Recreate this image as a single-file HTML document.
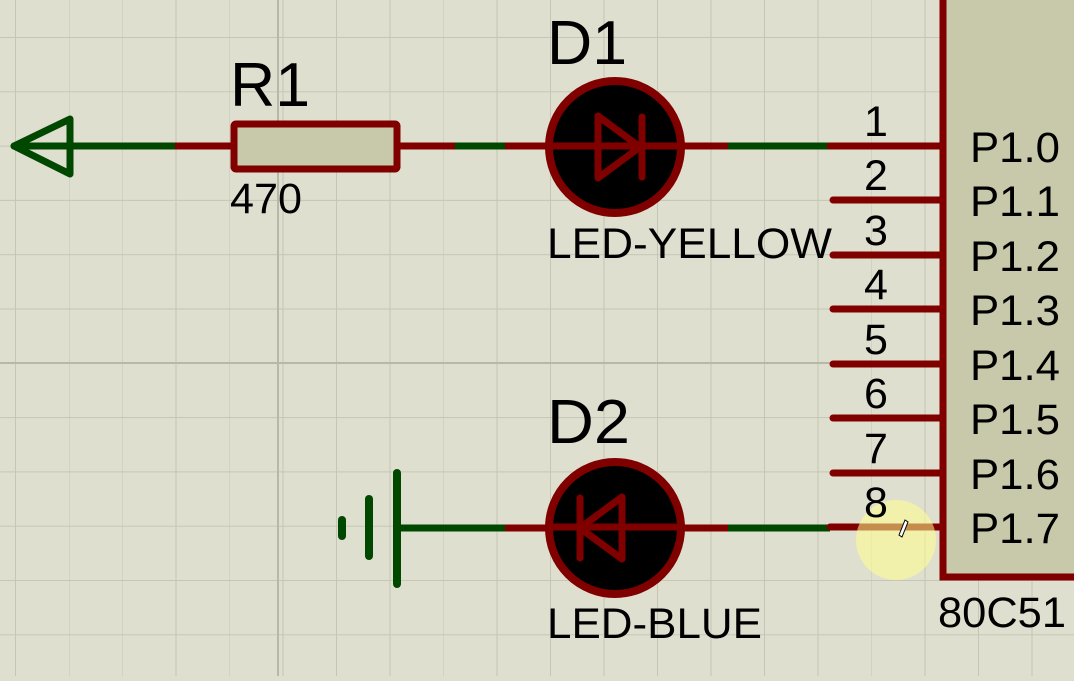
<!DOCTYPE html>
<html><head><style>html,body{margin:0;padding:0;overflow:hidden;background:#dfdfd0;}</style></head>
<body>
<svg width="1074" height="676" xmlns="http://www.w3.org/2000/svg" font-family="Liberation Sans, sans-serif">
<defs>
<pattern id="g" x="15" y="37" width="53.5" height="54.3" patternUnits="userSpaceOnUse">
<path d="M0 0H53.5M0 0V54.3" stroke="#c6c6b6" stroke-width="2" fill="none"/>
</pattern>
</defs>
<rect width="1074" height="676" fill="#dfdfd0"/>
<rect width="1074" height="676" fill="url(#g)"/>
<line x1="278" y1="0" x2="278" y2="676" stroke="#b8b8a8" stroke-width="2"/>
<line x1="0" y1="363" x2="1074" y2="363" stroke="#b8b8a8" stroke-width="2"/>
<g stroke-linecap="round" fill="none" stroke-width="7">
<path d="M70 119 L14 146 L70 174 Z" stroke="#004800" stroke-linejoin="round"/>
<line x1="14" y1="146" x2="175" y2="146" stroke="#004800"/>
<line x1="175" y1="146" x2="232" y2="146" stroke="#800000" stroke-linecap="butt"/>
<line x1="398" y1="146" x2="455" y2="146" stroke="#800000" stroke-linecap="butt"/>
<line x1="455" y1="146" x2="505" y2="146" stroke="#004800" stroke-linecap="butt"/>
<line x1="505" y1="146" x2="728" y2="146" stroke="#800000" stroke-linecap="butt"/>
<line x1="728" y1="146" x2="830" y2="146" stroke="#004800" stroke-linecap="butt"/>
<line x1="397" y1="473" x2="397" y2="584" stroke="#004800" stroke-width="8"/>
<line x1="369" y1="499" x2="369" y2="556" stroke="#004800" stroke-width="8"/>
<line x1="342" y1="520" x2="342" y2="536" stroke="#004800" stroke-width="8"/>
<line x1="397" y1="528" x2="505" y2="528" stroke="#004800" stroke-linecap="butt"/>
<line x1="505" y1="528" x2="728" y2="528" stroke="#800000" stroke-linecap="butt"/>
<line x1="728" y1="528" x2="830" y2="528" stroke="#004800" stroke-linecap="butt"/>
</g>
<rect x="234" y="124" width="163" height="45" fill="#c8c8aa" stroke="#800000" stroke-width="7" rx="2"/>
<circle cx="615" cy="147" r="66" fill="#000" stroke="#800000" stroke-width="8"/>
<line x1="549" y1="146" x2="682" y2="146" stroke="#800000" stroke-width="7"/>
<path d="M598 116 L640 147 L598 178 Z" fill="none" stroke="#800000" stroke-width="7" stroke-linejoin="round"/>
<line x1="642" y1="117" x2="642" y2="177" stroke="#800000" stroke-width="7" stroke-linecap="round"/>
<circle cx="615" cy="528" r="66" fill="#000" stroke="#800000" stroke-width="8"/>
<line x1="549" y1="527" x2="682" y2="527" stroke="#800000" stroke-width="7"/>
<path d="M622 497 L580 528 L622 559 Z" fill="none" stroke="#800000" stroke-width="7" stroke-linejoin="round"/>
<line x1="580" y1="498" x2="580" y2="558" stroke="#800000" stroke-width="7" stroke-linecap="round"/>
<rect x="943" y="-10" width="140" height="587" fill="#c8c8aa" stroke="#800000" stroke-width="7"/>
<g stroke="#800000" stroke-width="7" stroke-linecap="round">
<line x1="830" y1="146" x2="940" y2="146"/>
<line x1="833" y1="200" x2="940" y2="200"/>
<line x1="833" y1="255" x2="940" y2="255"/>
<line x1="833" y1="309" x2="940" y2="309"/>
<line x1="833" y1="364" x2="940" y2="364"/>
<line x1="833" y1="418" x2="940" y2="418"/>
<line x1="833" y1="473" x2="940" y2="473"/>
<line x1="830" y1="527" x2="940" y2="527"/>
</g>
<circle cx="896" cy="540" r="40" fill="rgba(255,255,140,0.55)"/>
<path d="M899 535 L905 520 L908 522 L902 537 Z" fill="#fff" stroke="#000" stroke-width="1"/>
<g fill="#000" lengthAdjust="spacingAndGlyphs">
<text x="230" y="106" font-size="62" textLength="80" lengthAdjust="spacingAndGlyphs">R1</text>
<text x="230" y="213" font-size="43" textLength="72" lengthAdjust="spacingAndGlyphs">470</text>
<text x="547" y="64" font-size="62" textLength="80" lengthAdjust="spacingAndGlyphs">D1</text>
<text x="547" y="258" font-size="43" textLength="285" lengthAdjust="spacingAndGlyphs">LED-YELLOW</text>
<text x="547" y="443" font-size="62" textLength="83" lengthAdjust="spacingAndGlyphs">D2</text>
<text x="547" y="638" font-size="43" textLength="215" lengthAdjust="spacingAndGlyphs">LED-BLUE</text>
<text x="938" y="627" font-size="43" textLength="128" lengthAdjust="spacingAndGlyphs">80C51</text>
<g font-size="43" text-anchor="middle">
<text x="876" y="136">1</text><text x="876" y="190">2</text><text x="876" y="245">3</text><text x="876" y="299">4</text>
<text x="876" y="354">5</text><text x="876" y="408">6</text><text x="876" y="463">7</text><text x="876" y="517">8</text>
</g>
<g font-size="43">
<text x="970" y="162" textLength="90" lengthAdjust="spacingAndGlyphs">P1.0</text>
<text x="970" y="216" textLength="90" lengthAdjust="spacingAndGlyphs">P1.1</text>
<text x="970" y="271" textLength="90" lengthAdjust="spacingAndGlyphs">P1.2</text>
<text x="970" y="325" textLength="90" lengthAdjust="spacingAndGlyphs">P1.3</text>
<text x="970" y="380" textLength="90" lengthAdjust="spacingAndGlyphs">P1.4</text>
<text x="970" y="434" textLength="90" lengthAdjust="spacingAndGlyphs">P1.5</text>
<text x="970" y="489" textLength="90" lengthAdjust="spacingAndGlyphs">P1.6</text>
<text x="970" y="543" textLength="90" lengthAdjust="spacingAndGlyphs">P1.7</text>
</g>
</g>
</svg>
</body></html>
